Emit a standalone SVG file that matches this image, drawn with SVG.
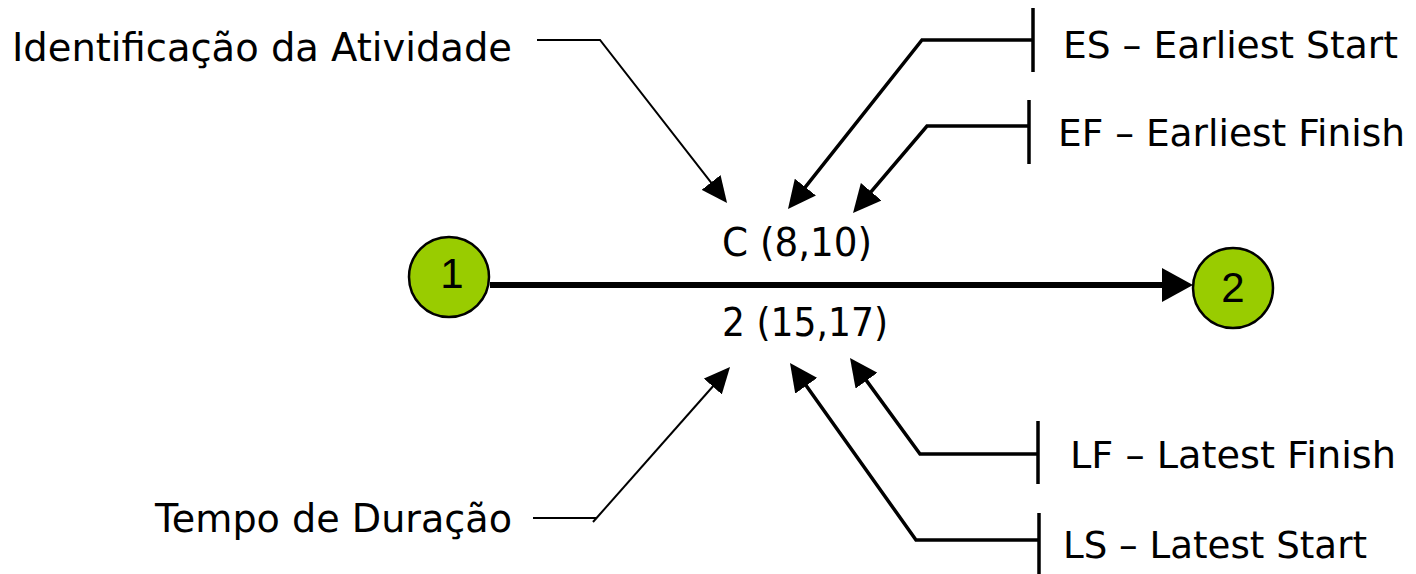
<svg xmlns="http://www.w3.org/2000/svg" width="1416" height="574" viewBox="0 0 1416 574">
<style>
.lbl{font-family:"DejaVu Sans","Liberation Sans",sans-serif;font-size:39px;fill:#000}
.rl{font-size:38px}
.num{font-family:"Liberation Sans",Arial,sans-serif;font-size:42px;fill:#000;text-anchor:middle}
.node{fill:#99cc00;stroke:#000;stroke-width:2.5}
.thin{fill:none;stroke:#000;stroke-width:2}
.thick{fill:none;stroke:#000;stroke-width:3.5}
.bar{stroke:#000;stroke-width:3.5}
</style>
<defs>
<marker id="ah" markerUnits="userSpaceOnUse" markerWidth="26" markerHeight="24" viewBox="0 0 26 24" refX="16" refY="12" orient="auto">
<path d="M0,0 L26,12 L0,24 z" fill="#000"/>
</marker>
<marker id="ahb" markerUnits="userSpaceOnUse" markerWidth="28" markerHeight="27" viewBox="0 0 28 27" refX="18" refY="13.5" orient="auto">
<path d="M0,0 L28,13.5 L0,27 z" fill="#000"/>
</marker>
</defs>
<rect width="1416" height="574" fill="#fff"/>
<g id="connectors">
<line x1="490" y1="285" x2="1166" y2="285" stroke="#000" stroke-width="6"/>
<polygon points="1193,285 1162,268 1162,302" fill="#000"/>
<path class="thin" d="M537,40 H600 L720.9,195.1" marker-end="url(#ah)"/>
<path class="thin" d="M533,518 H596"/>
<path class="thin" d="M593,522 L723.4,374.5" marker-end="url(#ah)"/>
<line class="bar" x1="1033" y1="8" x2="1033" y2="72"/>
<path class="thick" d="M1033,40 H922 L794.2,201.2" stroke-width="5" marker-end="url(#ahb)"/>
<line class="bar" x1="1029" y1="100" x2="1029" y2="164"/>
<path class="thick" d="M1029,126 H927 L859.5,205.4" marker-end="url(#ahb)"/>
<line class="bar" x1="1038" y1="421" x2="1038" y2="484"/>
<path class="thick" d="M1038,454 H920 L855.9,366.1" marker-end="url(#ahb)"/>
<line class="bar" x1="1039" y1="513" x2="1039" y2="574"/>
<path class="thick" d="M1039,540 H916 L795.8,371.1" marker-end="url(#ahb)"/>
</g>
<g id="node1">
<circle class="node" cx="449" cy="277" r="40"/>
<text class="num" x="452" y="288">1</text>
</g>
<g id="node2">
<circle class="node" cx="1233" cy="288" r="40"/>
<text class="num" x="1233" y="302">2</text>
</g>
<g id="activity">
<text class="lbl" x="722" y="256" textLength="150" lengthAdjust="spacingAndGlyphs">C (8,10)</text>
<text class="lbl" x="722" y="336" textLength="166" lengthAdjust="spacingAndGlyphs">2 (15,17)</text>
</g>
<g id="label-id">
<text class="lbl" x="12" y="61" textLength="500" lengthAdjust="spacingAndGlyphs">Identificação da Atividade</text>
</g>
<g id="label-tempo">
<text class="lbl" x="155" y="532" textLength="357" lengthAdjust="spacingAndGlyphs">Tempo de Duração</text>
</g>
<g id="label-es">
<text class="lbl rl" x="1063" y="58" textLength="335" lengthAdjust="spacingAndGlyphs">ES – Earliest Start</text>
</g>
<g id="label-ef">
<text class="lbl rl" x="1058" y="146" textLength="347" lengthAdjust="spacingAndGlyphs">EF – Earliest Finish</text>
</g>
<g id="label-lf">
<text class="lbl rl" x="1070" y="468" textLength="326" lengthAdjust="spacingAndGlyphs">LF – Latest Finish</text>
</g>
<g id="label-ls">
<text class="lbl rl" x="1063" y="558" textLength="304" lengthAdjust="spacingAndGlyphs">LS – Latest Start</text>
</g>
</svg>
